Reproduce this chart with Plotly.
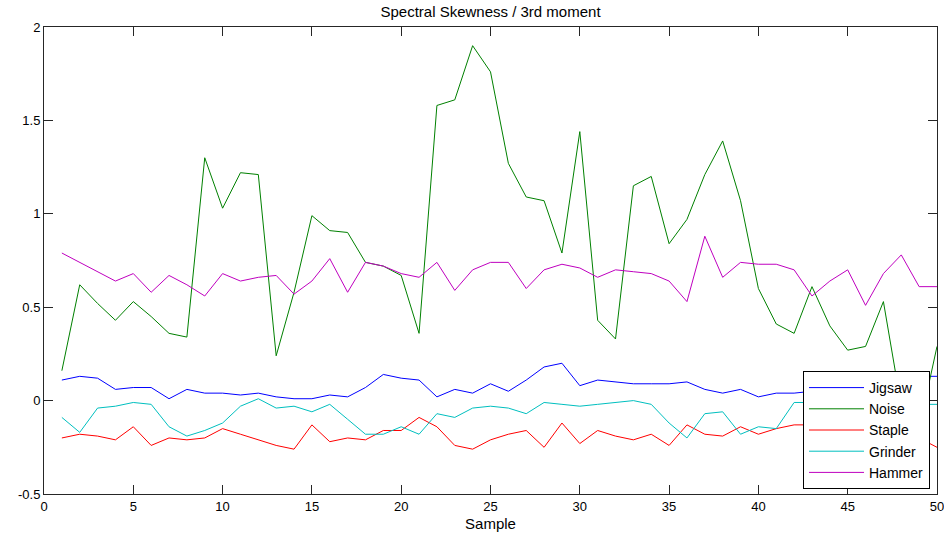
import plotly.graph_objects as go

samples = list(range(1, 51))

jigsaw = [0.11, 0.13, 0.12, 0.06, 0.07, 0.07, 0.01, 0.06, 0.04, 0.04,
          0.03, 0.04, 0.02, 0.01, 0.01, 0.03, 0.02, 0.07, 0.14, 0.12,
          0.11, 0.02, 0.06, 0.04, 0.09, 0.05, 0.11, 0.18, 0.20, 0.08,
          0.11, 0.10, 0.09, 0.09, 0.09, 0.10, 0.06, 0.04, 0.06, 0.02,
          0.04, 0.04, 0.05, 0.06, 0.08, 0.10, 0.11, 0.12, 0.13, 0.13]

noise = [0.16, 0.62, 0.52, 0.43, 0.53, 0.45, 0.36, 0.34, 1.30, 1.03,
         1.22, 1.21, 0.24, 0.58, 0.99, 0.91, 0.90, 0.74, 0.72, 0.67,
         0.36, 1.58, 1.61, 1.90, 1.76, 1.27, 1.09, 1.07, 0.79, 1.44,
         0.43, 0.33, 1.15, 1.20, 0.84, 0.97, 1.21, 1.39, 1.07, 0.60,
         0.41, 0.36, 0.61, 0.40, 0.27, 0.29, 0.53, -0.03, -0.15, 0.29]

staple = [-0.20, -0.18, -0.19, -0.21, -0.14, -0.24, -0.20, -0.21, -0.20, -0.15,
          -0.18, -0.21, -0.24, -0.26, -0.13, -0.22, -0.20, -0.21, -0.16, -0.16,
          -0.09, -0.14, -0.24, -0.26, -0.21, -0.18, -0.16, -0.25, -0.12, -0.23,
          -0.16, -0.19, -0.21, -0.18, -0.24, -0.13, -0.18, -0.19, -0.14, -0.18,
          -0.15, -0.13, -0.13, -0.14, -0.16, -0.15, -0.17, -0.18, -0.20, -0.25]

grinder = [-0.09, -0.17, -0.04, -0.03, -0.01, -0.02, -0.14, -0.19, -0.16, -0.12,
           -0.03, 0.01, -0.04, -0.03, -0.06, -0.02, -0.10, -0.18, -0.18, -0.14,
           -0.18, -0.07, -0.09, -0.04, -0.03, -0.04, -0.07, -0.01, -0.02, -0.03,
           -0.02, -0.01, 0.00, -0.02, -0.12, -0.20, -0.07, -0.06, -0.18, -0.14,
           -0.15, -0.01, -0.01, -0.02, -0.02, -0.01, -0.02, -0.02, -0.02, -0.02]

hammer = [0.79, 0.74, 0.69, 0.64, 0.68, 0.58, 0.67, 0.62, 0.56, 0.68,
          0.64, 0.66, 0.67, 0.57, 0.64, 0.76, 0.58, 0.74, 0.72, 0.68,
          0.66, 0.74, 0.59, 0.70, 0.74, 0.74, 0.60, 0.70, 0.73, 0.71,
          0.66, 0.70, 0.69, 0.68, 0.64, 0.53, 0.88, 0.66, 0.74, 0.73,
          0.73, 0.70, 0.56, 0.64, 0.70, 0.51, 0.68, 0.78, 0.61, 0.61]

series_names = ["Jigsaw", "Noise", "Staple", "Grinder", "Hammer"]
series_values = [jigsaw, noise, staple, grinder, hammer]
series_colors = ["#0000ff", "#008000", "#ff0000", "#00bfbf", "#bf00bf"]

x_ticks = [0, 5, 10, 15, 20, 25, 30, 35, 40, 45, 50]
y_ticks = [-0.5, 0, 0.5, 1, 1.5, 2]
y_ticktext = ["-0.5", "0", "0.5", "1", "1.5", "2"]

FONT = "Liberation Sans, Arial, sans-serif"

fig = go.Figure()
for name, vals, col in zip(series_names, series_values, series_colors):
    fig.add_trace(go.Scatter(x=samples, y=vals, mode="lines", name=name,
                             line=dict(color=col, width=1)))

axis_common = dict(showline=True, linecolor="#262626", linewidth=1, mirror="ticks",
                   ticks="inside", ticklen=9, tickwidth=1, tickcolor="#262626",
                   showgrid=False, zeroline=False, ticklabeloverflow="allow",
                   automargin=False,
                   tickfont=dict(family=FONT, size=13, color="#000000"))

fig.update_layout(
    width=944, height=542,
    margin=dict(l=44, r=7, t=27, b=48, autoexpand=False),
    paper_bgcolor="white", plot_bgcolor="white",
    title=dict(text="Spectral Skewness / 3rd moment", x=(44 + 937) / 2 / 944, xanchor="center",
               y=1 - 12 / 542, yanchor="middle",
               font=dict(family=FONT, size=15, color="#000000")),
    xaxis=dict(range=[0, 50], tickvals=x_ticks, ticktext=[str(v) for v in x_ticks],
               title=dict(text="Sample", standoff=5, font=dict(family=FONT, size=15, color="#000000")),
               **axis_common),
    yaxis=dict(range=[-0.5, 2], tickvals=y_ticks, ticktext=y_ticktext, **axis_common),
    showlegend=True,
    legend=dict(x=(930 - 44) / 893, xanchor="right", y=(494 - 371) / 467, yanchor="top",
                bgcolor="white", bordercolor="#000000", borderwidth=1,
                font=dict(family=FONT, size=14, color="#000000"),
                itemwidth=55, tracegroupgap=0),
)

fig.write_html("out.html")
